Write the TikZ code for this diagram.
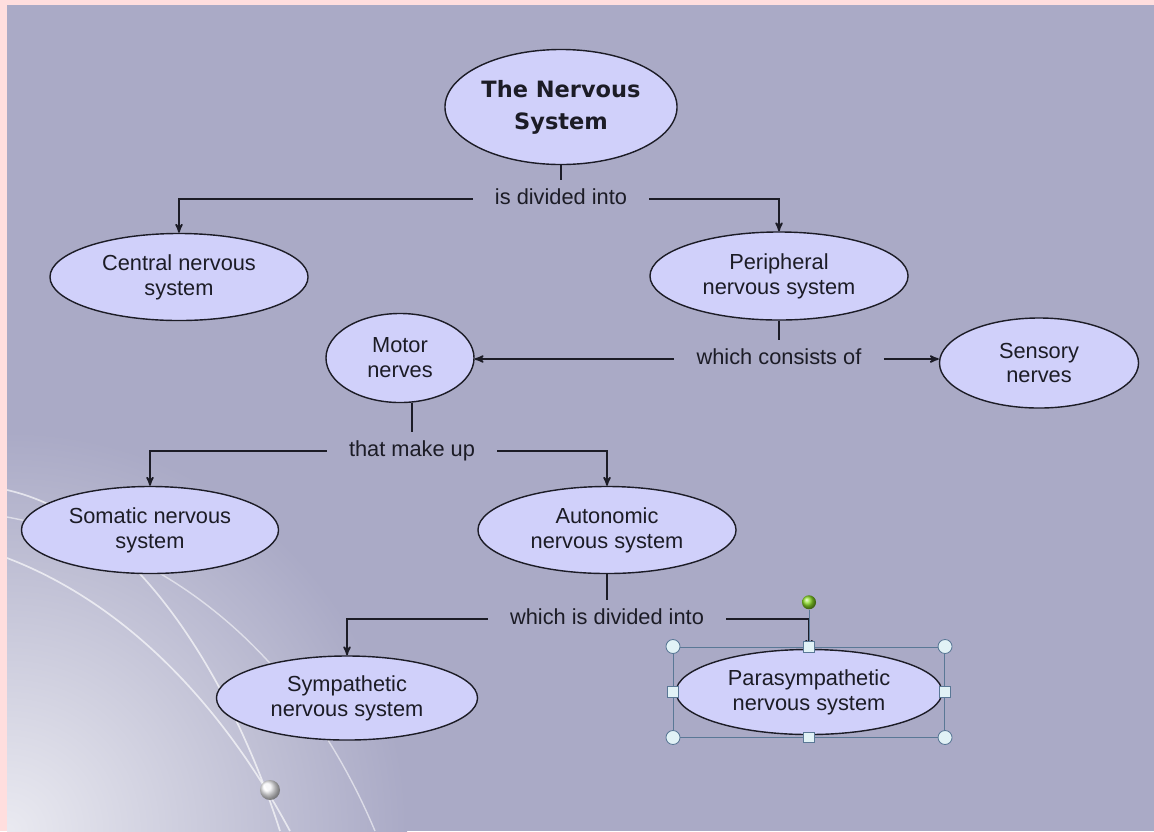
\documentclass[tikz,border=0pt]{standalone}
\usepackage{fontspec}
\setmainfont{Liberation Sans}
\newfontfamily\titlefont{DejaVu Sans}
\usepackage{tikz}
\usetikzlibrary{positioning}
\usetikzlibrary{arrows}
\usetikzlibrary{arrows.meta}
\usetikzlibrary{shapes,fit,calc}
\definecolor{pinkedge}{RGB}{255,222,222}
\definecolor{slide}{RGB}{170,170,198}
\definecolor{nodefill}{RGB}{208,208,250}
\definecolor{ink}{RGB}{28,28,38}
\definecolor{selline}{RGB}{90,120,150}
\definecolor{handlefill}{RGB}{225,242,246}
\definecolor{handlegreen}{RGB}{140,220,40}
\tikzset{main node/.style={ellipse,draw=ink,fill=nodefill,line width=1pt,inner sep=0pt,align=center,text=ink,font=\fontsize{15.5}{17.7}\selectfont},
link node/.style={inner xsep=0.55cm,inner ysep=6.5pt,text height=11pt,text depth=3pt,text=ink,font=\fontsize{15.5}{17.7}\selectfont},
connector/.style={draw=ink,line width=1.2pt},
corner handle/.style={circle,draw=selline,fill=handlefill,minimum size=0.35cm,inner sep=0pt},
side handle/.style={rectangle,draw=selline,fill=handlefill,minimum size=0.27cm,inner sep=0pt},}

\begin{document}
\begin{tikzpicture}[>=stealth', x=0.025cm, y=-0.025cm, semithick]
	% slide background
	\fill[pinkedge] (0,0) rectangle (1154,831);
	\fill[slide] (7,5) rectangle (1154,831);
	\begin{scope}
		\clip (7,5) rectangle (1154,831);
		\shade[inner color=white!75!slide, outer color=slide] (7,831) circle (400);
		\draw[white, opacity=.65, line width=1.2pt] (7,490) .. controls (140,520) and (235,690) .. (280,831);
		\draw[white, opacity=.65, line width=1.2pt] (7,558) .. controls (130,605) and (225,710) .. (290,831);
		\draw[white, opacity=.55, line width=1pt] (7,517) .. controls (210,555) and (320,700) .. (375,831);
	\end{scope}
	\shade[ball color=white, opacity=.9] (270,790) circle (10);

	% concepts
	\node[main node, minimum width=5.8cm, minimum height=2.875cm, font=\titlefont\bfseries\fontsize{16}{22.7}\selectfont] (nervous) at (561,107) {The Nervous\\System};
	\node[main node, minimum width=6.45cm, minimum height=2.175cm] (central) at (179,277) {Central nervous\\system};
	\node[main node, minimum width=6.45cm, minimum height=2.2cm] (peripheral) at (779,276) {Peripheral\\nervous system};
	\node[main node, minimum width=3.7cm, minimum height=2.225cm] (motor) at (400,358) {Motor\\nerves};
	\node[main node, minimum width=4.975cm, minimum height=2.25cm] (sensory) at (1039,363) {Sensory\\nerves};
	\node[main node, minimum width=6.425cm, minimum height=2.175cm] (somatic) at (150,530) {Somatic nervous\\system};
	\node[main node, minimum width=6.45cm, minimum height=2.175cm] (autonomic) at (607,530) {Autonomic\\nervous system};
	\node[main node, minimum width=6.525cm, minimum height=2.1cm] (sympathetic) at (347,698) {Sympathetic\\nervous system};
	\node[main node, minimum width=6.65cm, minimum height=2.125cm] (para) at (809,692) {Parasympathetic\\nervous system};

	% linking phrases
	\node[link node] (divided) at (561,199) {is divided into};
	\node[link node] (consists) at (779,359) {which consists of};
	\node[link node] (makeup) at (412,451) {that make up};
	\node[link node] (split) at (607,619) {which is divided into};

	% connectors
	\draw[connector] (nervous) -- (divided);
	\draw[connector, ->] (divided.west) -| (central.north);
	\draw[connector, ->] (divided.east) -| (peripheral.north);
	\draw[connector] (peripheral) -- (consists);
	\draw[connector, ->] (consists.west) -- (consists.west -| motor.east);
	\draw[connector, ->] (consists.east) -- (consists.east -| sensory.west);
	\draw[connector] (makeup.north |- motor.south) -- (makeup.north);
	\draw[connector, ->] (makeup.west) -| (somatic.north);
	\draw[connector, ->] (makeup.east) -| (autonomic.north);
	\draw[connector] (autonomic) -- (split);
	\draw[connector, ->] (split.west) -| (sympathetic.north);
	\draw[connector, ->] (split.east) -| (para.north);

	% selection frame
	\node[draw=selline, thin, fit=(para), inner sep=0.05cm] (sel) {};
	\node[circle, ball color=handlegreen, minimum size=0.35cm, inner sep=0pt, above=0.92cm of sel.north] (rot) {};
	\draw[selline, thin] (rot) -- (sel.north);
	\foreach \a in {north west, north east, south west, south east}
		\node[corner handle] at (sel.\a) {};
	\foreach \a in {north, south, east, west}
		\node[side handle] at (sel.\a) {};
\end{tikzpicture}
\end{document}
